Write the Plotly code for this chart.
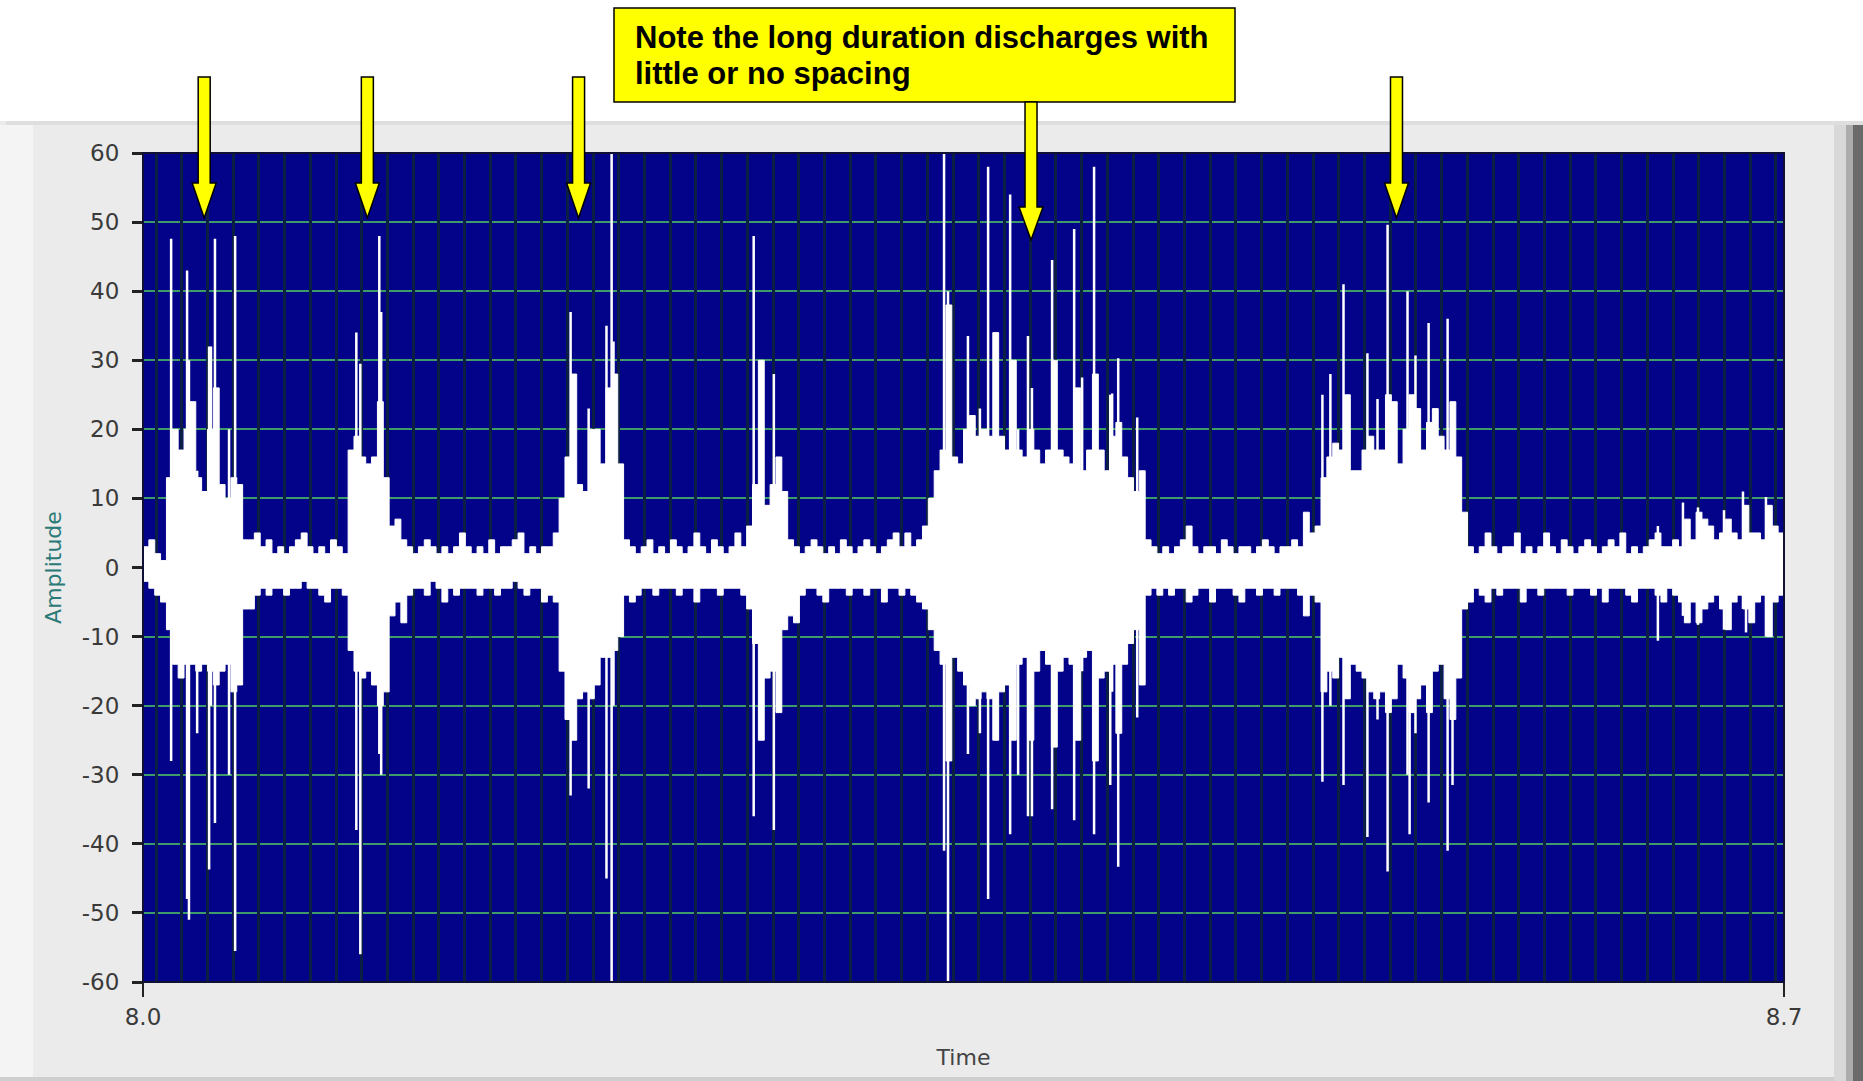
import plotly.graph_objects as go

# ---------------- data ----------------
t_start = 8.0
t_end = 8.7
env_step = 0.0025  # sampling step of the envelope readings (s)

# upper / lower envelope of the dense signal band, one reading every env_step
upper_env = [3, 4, 2, 1,
             13, 20, 17, 20, 24, 13, 11, 20, 26, 12, 10, 13, 12, 4,
             4, 5, 3, 4, 2, 3, 2, 3, 4, 5, 3, 2, 3, 2, 4, 3, 2,
             17, 19, 16, 15, 16, 24, 13, 6,
             7, 4, 3, 2, 3, 4, 3, 2, 3, 2, 3, 5, 3, 2, 3, 2, 4, 2, 3, 3, 4, 5, 2, 3, 2, 3, 3,
             5, 10, 16, 28, 12, 11, 20, 20, 15, 26, 28, 15, 4,
             3, 2, 3, 4, 2, 3, 2, 4, 3, 2, 3, 5, 3, 2, 4, 3, 2, 3, 5, 3,
             6, 12, 30, 9, 12, 16, 11, 4,
             3, 2, 3, 4, 3, 2, 3, 2, 4, 3, 2, 3, 4, 3, 2, 3, 4, 5, 3, 5, 3, 4,
             6, 10, 14, 17, 38, 16, 15, 20, 22, 19, 20, 19, 34, 19, 17, 30, 17, 16, 20, 17,
             15, 17, 30, 17, 16, 15, 26, 14, 17, 28, 17, 14, 19, 21, 16, 13, 11, 14, 4,
             3, 2, 3, 2, 3, 4, 6, 3, 2, 3, 3, 2, 4, 3, 2, 3, 3, 2, 3, 4, 3, 2, 3, 3, 4, 3, 8, 5,
             6, 13, 16, 18, 17, 25, 14, 14, 17, 19, 17, 17, 25, 24, 15, 20, 25, 23, 17, 21, 23, 19, 17, 24, 16, 8,
             3, 2, 3, 5, 3, 2, 3, 3, 5, 2, 3, 2, 3, 5, 3, 2, 4, 3, 2, 3, 4, 3, 2, 3, 4, 3, 5, 2, 3, 2, 3, 4,
             5, 3, 3, 4, 3, 7, 4, 8, 7, 6, 4, 5, 7, 5, 4, 9, 5, 5, 4, 9, 6, 5, 6]

lower_env = [-2, -3, -4, -5,
             -9, -14, -16, -14, -14, -15, -14, -15, -17, -15, -14, -18, -17, -6,
             -6, -4, -3, -4, -3, -3, -4, -3, -3, -2, -3, -3, -4, -5, -3, -3, -4,
             -12, -15, -16, -15, -17, -20, -18, -7,
             -5, -8, -4, -3, -3, -4, -2, -3, -5, -3, -4, -3, -3, -3, -4, -3, -3, -4, -3, -3, -2, -3, -4, -3, -3, -5, -4,
             -5, -15, -22, -25, -19, -18, -19, -17, -13, -13, -12, -10, -4,
             -5, -4, -3, -3, -4, -3, -3, -3, -4, -3, -3, -5, -3, -3, -3, -4, -3, -3, -3, -4,
             -6, -11, -25, -16, -15, -21, -9, -7,
             -8, -4, -3, -3, -4, -5, -3, -3, -3, -4, -3, -3, -4, -3, -3, -5, -3, -3, -4, -3, -4, -5,
             -6, -9, -12, -14, -28, -13, -15, -17, -20, -19, -18, -19, -25, -18, -17, -25, -14, -13, -25, -15,
             -12, -14, -26, -15, -13, -14, -25, -13, -12, -28, -16, -15, -14, -24, -14, -11, -9, -17, -4,
             -3, -4, -3, -4, -3, -3, -5, -4, -3, -3, -5, -3, -3, -3, -4, -5, -3, -3, -4, -3, -3, -4, -3, -3, -3, -4, -7, -4,
             -5, -18, -15, -16, -13, -19, -14, -15, -16, -18, -19, -18, -21, -19, -14, -16, -21, -19, -17, -21, -15, -14, -19, -22, -16, -6,
             -5, -3, -4, -5, -3, -4, -3, -3, -3, -5, -3, -3, -4, -3, -3, -3, -3, -4, -3, -3, -3, -4, -3, -5, -3, -3, -3, -4, -5, -3, -3, -3,
             -4, -5, -3, -4, -5, -8, -5, -8, -6, -5, -4, -6, -9, -5, -4, -6, -8, -5, -4, -10, -5, -4, -3]

# individual discharge spikes: time, highest and lowest amplitude
spike_times = [8.0120, 8.0188, 8.0196, 8.0231, 8.0282, 8.0290, 8.0307, 8.0367, 8.0393,
               8.0910, 8.0927, 8.1008, 8.1016,
               8.1824, 8.1901, 8.1977, 8.1999, 8.2007,
               8.2605, 8.2691,
               8.3417, 8.3434, 8.3519, 8.3570, 8.3605, 8.3643, 8.3699, 8.3733, 8.3775, 8.3792,
               8.3878, 8.3972, 8.4006, 8.4057, 8.4126, 8.4134, 8.4160, 8.4241,
               8.5031, 8.5065, 8.5121, 8.5223, 8.5266, 8.5309, 8.5394, 8.5403, 8.5428, 8.5484,
               8.5565, 8.5586,
               8.6462, 8.6569, 8.6633, 8.6744, 8.6825, 8.6838, 8.6923]
spike_high = [47.6, 43, 30, 14, 32, 32, 47.6, 20, 48,
              34, 29.5, 48, 37,
              37, 23, 35, 60, 32.7,
              48, 28,
              60, 40, 33.5, 23, 58, 29.5, 54, 20, 33.5, 26,
              44.5, 49, 27.5, 58, 25, 25.2, 30.3, 21.7,
              25, 28, 41, 31, 24.4, 49.6, 40, 20, 30.7, 35.4,
              36, 21.3,
              6, 9.4, 8.7, 8.3, 11, 5, 10.2]
spike_low = [-28, -48, -51, -24, -43.7, -20, -37, -30, -55.5,
             -38, -56, -27, -30,
             -33, -32, -45, -60, -20,
             -36, -38,
             -41, -60, -27, -24, -48, -25, -38.6, -30, -36, -36,
             -35, -36.6, -15, -38.6, -31.5, -18, -43.3, -21.7,
             -31, -20, -31.5, -39, -22, -44, -30, -38.6, -24, -34,
             -41, -31.5,
             -10.6, -7, -8.3, -9, -6, -9.4, -10]

y_ticks = [-60, -50, -40, -30, -20, -10, 0, 10, 20, 30, 40, 50, 60]
y_tick_text = ["-60", "-50", "-40", "-30", "-20", "-10", "0", "10", "20", "30", "40", "50", "60"]
x_tick_vals = [8.0, 8.7]
x_tick_text = ["8.0", "8.7"]
grid_tick0 = 8.00555
grid_step = 0.010968

arrow_times = [8.0261, 8.0957, 8.1858, 8.3788, 8.5347]
arrow_is_note = [False, False, False, True, False]
note_lines = ["Note the long duration discharges with", "little or no spacing"]
x_title = "Time"
y_title = "Amplitude"

# ---------------- layout geometry ----------------
W, H = 1863, 1081
L, R, T, B = 143, 79, 153, 99
PW, PH = W - L - R, H - T - B


def px_x(X):
    return (X - L) / PW


def px_y(Y):
    return (H - B - Y) / PH


env_t = [round(t_start + k * env_step, 6) for k in range(len(upper_env))]

spk_x, spk_y = [], []
for t, hi, lo in zip(spike_times, spike_high, spike_low):
    spk_x += [t, t, None]
    spk_y += [lo, hi, None]

fig = go.Figure()

# helper trace for the vertical grid axis
fig.add_trace(go.Scatter(x=[t_start, t_end], y=[0, 0], xaxis="x2", mode="markers",
                         marker=dict(opacity=0), hoverinfo="skip", showlegend=False))
fig.add_trace(go.Scatter(x=env_t, y=lower_env, mode="lines",
                         line=dict(color="white", width=1, shape="hv"),
                         hoverinfo="skip", showlegend=False))
fig.add_trace(go.Scatter(x=env_t, y=upper_env, mode="lines", fill="tonexty",
                         fillcolor="white",
                         line=dict(color="white", width=1, shape="hv"),
                         hoverinfo="skip", showlegend=False))
fig.add_trace(go.Scatter(x=spk_x, y=spk_y, mode="lines",
                         line=dict(color="white", width=2.5),
                         hoverinfo="skip", showlegend=False))

shapes = []
# panel decoration (outside the plot area)
shapes.append(dict(type="rect", xref="paper", yref="paper", layer="below",
                   x0=px_x(0), x1=px_x(W), y0=px_y(121), y1=px_y(0),
                   fillcolor="white", line=dict(width=0)))
shapes.append(dict(type="rect", xref="paper", yref="paper", layer="below",
                   x0=px_x(6), x1=px_x(W), y0=px_y(125), y1=px_y(121),
                   fillcolor="#dedede", line=dict(width=0)))
shapes.append(dict(type="rect", xref="paper", yref="paper", layer="below",
                   x0=px_x(0), x1=px_x(33), y0=px_y(H), y1=px_y(125),
                   fillcolor="#f4f4f4", line=dict(width=0)))
for xa, xb, col in [(1834, 1846, "#d8d8d8"), (1846, 1853, "#acacac"), (1853, 1863, "#6a6a6a")]:
    shapes.append(dict(type="rect", xref="paper", yref="paper", layer="below",
                       x0=px_x(xa), x1=px_x(xb), y0=px_y(H), y1=px_y(125),
                       fillcolor=col, line=dict(width=0)))
shapes.append(dict(type="rect", xref="paper", yref="paper", layer="below",
                   x0=px_x(0), x1=px_x(1834), y0=px_y(H), y1=px_y(1077),
                   fillcolor="#cfcfcf", line=dict(width=0)))
# plot frame
shapes.append(dict(type="rect", xref="paper", yref="paper", layer="above",
                   x0=0, x1=1, y0=0, y1=1, line=dict(color="#101035", width=2)))
# note box
shapes.append(dict(type="rect", xref="paper", yref="paper", layer="above",
                   x0=px_x(614), x1=px_x(1235), y0=px_y(102), y1=px_y(8),
                   fillcolor="#ffff00", line=dict(color="black", width=1.5)))
# arrows
for t, is_note in zip(arrow_times, arrow_is_note):
    if is_note:
        y_top, y_hb, y_tip = px_y(102), px_y(207), px_y(240)
    else:
        y_top, y_hb, y_tip = px_y(77), px_y(183), px_y(218)
    path = (f"M -6,{y_top} L 6,{y_top} L 6,{y_hb} L 12,{y_hb} L 0,{y_tip} "
            f"L -12,{y_hb} L -6,{y_hb} Z")
    shapes.append(dict(type="path", xref="x", yref="paper", xsizemode="pixel",
                       xanchor=t, path=path, layer="above",
                       fillcolor="#ffff00", line=dict(color="black", width=1.5)))

annotations = []
for i, line_txt in enumerate(note_lines):
    annotations.append(dict(text="<b>" + line_txt + "</b>", xref="paper", yref="paper",
                            x=px_x(633), y=px_y(37 + 37 * i), xanchor="left",
                            yanchor="middle", align="left", showarrow=False,
                            font=dict(family="Liberation Sans, Arial", size=31,
                                      color="black")))

fig.update_layout(
    width=W, height=H,
    margin=dict(l=L, r=R, t=T, b=B, pad=0, autoexpand=False),
    paper_bgcolor="#ebebeb",
    plot_bgcolor="#030389",
    showlegend=False,
    shapes=shapes,
    annotations=annotations,
    font=dict(family="DejaVu Sans", color="#333333"),
    xaxis=dict(range=[t_start, t_end], tickmode="array", tickvals=x_tick_vals,
               ticktext=x_tick_text, ticks="outside", ticklen=14, tickwidth=2,
               tickcolor="#222222", showgrid=False, zeroline=False, showline=False,
               tickfont=dict(family="DejaVu Sans", size=23, color="#3a3a3a"),
               title=dict(text=x_title, standoff=21,
                          font=dict(family="DejaVu Sans", size=22, color="#444444"))),
    xaxis2=dict(overlaying="x", range=[t_start, t_end], tickmode="linear",
                tick0=grid_tick0, dtick=grid_step, showgrid=True,
                gridcolor="#0b1f45", gridwidth=3, showticklabels=False, ticks="",
                zeroline=False, showline=False, side="bottom"),
    yaxis=dict(range=[-60, 60], tickmode="array", tickvals=y_ticks,
               ticktext=y_tick_text,
               ticks="outside", ticklen=10, tickwidth=3, tickcolor="#222222",
               ticklabelstandoff=8,
               showgrid=True, gridcolor="#3f9a6a", gridwidth=2, zeroline=False,
               showline=False,
               tickfont=dict(family="DejaVu Sans", size=23, color="#3a3a3a"),
               title=dict(text=y_title, standoff=14,
                          font=dict(family="DejaVu Sans", size=22, color="#2a7a78"))),
)

fig.write_html("out.html", config={"displayModeBar": False},
               post_script="document.body.style.margin='0px';document.body.style.overflow='hidden';")
